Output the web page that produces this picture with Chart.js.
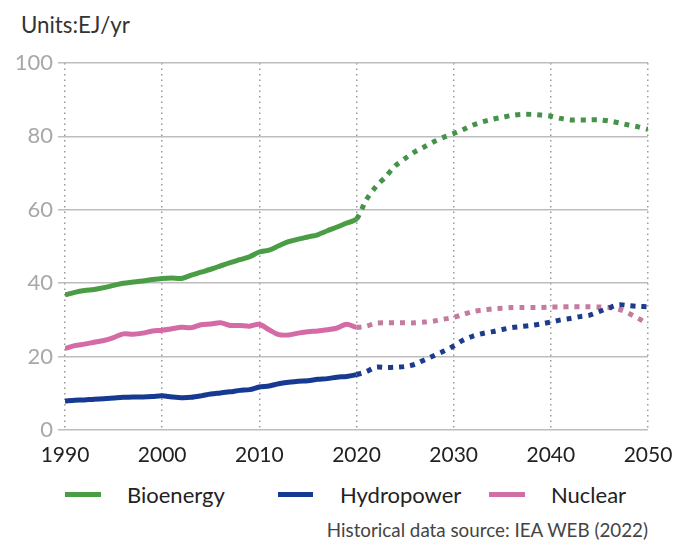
<!DOCTYPE html>
<html>
<head>
<meta charset="utf-8">
<script src="https://cdn.jsdelivr.net/npm/chart.js@4"></script>
<style>
  html, body { margin: 0; padding: 0; background: #fff; }
  body { width: 675px; height: 543px; position: relative; overflow: hidden; font-family: Lato, "Noto Sans", sans-serif; }
  #title { position: absolute; left: 21px; top: 11px; font-size: 22.3px; color: #333; }
  #wrap { position: absolute; left: 0; top: 0; width: 675px; height: 470px; }
  .lg-line { position: absolute; height: 5px; top: 492px; }
  .lg-text { position: absolute; top: 481px; font-size: 22px; color: #222; }
  #source { position: absolute; right: 27px; top: 518px; font-size: 18.8px; color: #444; }
</style>
</head>
<body>
<div id="title">Units:EJ/yr</div>
<div id="wrap"><canvas id="c" width="675" height="470"></canvas></div>
<div class="lg-line" style="left:65px;width:36px;background:#4a9d44"></div>
<div class="lg-text" style="left:127px">Bioenergy</div>
<div class="lg-line" style="left:278px;width:35px;background:#163a91"></div>
<div class="lg-text" style="left:340px">Hydropower</div>
<div class="lg-line" style="left:489px;width:36px;background:#cf6fa5"></div>
<div class="lg-text" style="left:551px">Nuclear</div>
<div id="source">Historical data source: IEA WEB (2022)</div>
<script>
const years = [1990,1991,1992,1993,1994,1995,1996,1997,1998,1999,
  2000,2001,2002,2003,2004,2005,2006,2007,2008,2009,
  2010,2011,2012,2013,2014,2015,2016,2017,2018,2019,
  2020,2021,2022,2023,2024,2025,2026,2027,2028,2029,
  2030,2031,2032,2033,2034,2035,2036,2037,2038,2039,
  2040,2041,2042,2043,2044,2045,2046,2047,2048,2049,2050];
const lastHistoricalYear = 2020;

const bioenergy = [36.8,37.5,38.0,38.3,38.8,39.4,40.0,40.3,40.6,41.0,
  41.3,41.4,41.3,42.2,43.0,43.8,44.7,45.6,46.4,47.2,
  48.5,49.0,50.2,51.3,52.0,52.6,53.2,54.3,55.3,56.4,
  57.5,62.7,66.3,69.0,72.0,74.0,75.8,77.2,78.6,79.8,
  80.8,81.9,83.1,84.0,84.7,85.2,85.7,86.0,86.0,85.8,
  85.5,84.9,84.5,84.5,84.5,84.5,84.2,83.7,83.1,82.6,81.9];

const hydropower = [7.9,8.1,8.2,8.4,8.5,8.7,8.9,9.0,9.0,9.1,
  9.3,9.0,8.8,8.9,9.3,9.8,10.1,10.4,10.8,11.0,
  11.7,12.0,12.6,13.0,13.3,13.4,13.8,14.0,14.4,14.6,
  15.1,15.9,17.1,17.0,17.1,17.3,17.9,19.1,20.3,21.5,
  22.9,24.5,25.6,26.3,26.8,27.4,27.9,28.2,28.5,28.9,
  29.4,30.0,30.4,30.9,31.3,32.3,33.3,34.1,33.9,33.7,33.6];

const nuclear = [22.2,23.0,23.4,23.9,24.4,25.2,26.2,26.1,26.4,27.0,
  27.2,27.6,28.0,27.9,28.7,28.9,29.2,28.5,28.5,28.3,
  28.8,27.3,26.0,25.9,26.4,26.8,27.0,27.3,27.8,28.8,
  28.0,28.3,29.1,29.2,29.2,29.2,29.2,29.4,29.7,30.2,
  30.7,31.5,32.3,32.7,33.0,33.2,33.4,33.4,33.4,33.4,
  33.5,33.5,33.6,33.6,33.6,33.5,33.4,32.9,31.8,30.4,28.9];

const seriesNames = ['Bioenergy', 'Hydropower', 'Nuclear'];
const histColors = ['#4a9d44', '#163a91', '#d46aa6'];
const projColors = ['#45924a', '#1b3b8c', '#c57a9f'];
const xTicks = [1990, 2000, 2010, 2020, 2030, 2040, 2050];
const yTicks = [0, 20, 40, 60, 80, 100];

function makeDataset(i, values) {
  return {
    label: seriesNames[i],
    data: years.map((y, k) => ({ x: y, y: values[k] })),
    borderColor: histColors[i],
    borderWidth: 5,
    pointRadius: 0,
    tension: 0.3,
    fill: false,
    borderCapStyle: 'butt',
    segment: {
      borderDash: ctx => ctx.p0.parsed.x >= lastHistoricalYear ? [5, 6] : undefined,
      borderColor: ctx => ctx.p0.parsed.x >= lastHistoricalYear ? projColors[i] : histColors[i]
    }
  };
}

new Chart(document.getElementById('c'), {
  type: 'line',
  data: {
    datasets: [
      makeDataset(0, bioenergy),
      makeDataset(1, hydropower),
      makeDataset(2, nuclear)
    ]
  },
  options: {
    responsive: false,
    animation: false,
    layout: { padding: { left: 0, right: 27, top: 63, bottom: 0 } },
    plugins: { legend: { display: false }, tooltip: { enabled: false } },
    scales: {
      x: {
        type: 'linear',
        min: 1990, max: 2050,
        afterBuildTicks: s => { s.ticks = xTicks.map(v => ({ value: v })); },
        afterFit: s => { s.height = 40; s.paddingLeft = 0; s.paddingRight = 0; },
        grid: { color: '#9a9a9a', lineWidth: 1.5, drawTicks: false },
        border: { display: false, dash: [1.5, 4] },
        ticks: { color: '#222', padding: 13, font: { family: 'Lato', size: 21 }, maxRotation: 0,
                 callback: v => String(v) }
      },
      y: {
        min: 0, max: 100,
        afterBuildTicks: s => { s.ticks = yTicks.map(v => ({ value: v })); },
        afterFit: s => { s.width = 65; s.paddingTop = 0; s.paddingBottom = 0; },
        grid: { color: '#bdbdbd', lineWidth: 1.5, drawTicks: true, tickLength: 7 },
        border: { display: false },
        ticks: { color: '#a8a8a8', padding: 5, font: { family: 'Lato', size: 22 } }
      }
    }
  }
});
</script>
</body>
</html>
